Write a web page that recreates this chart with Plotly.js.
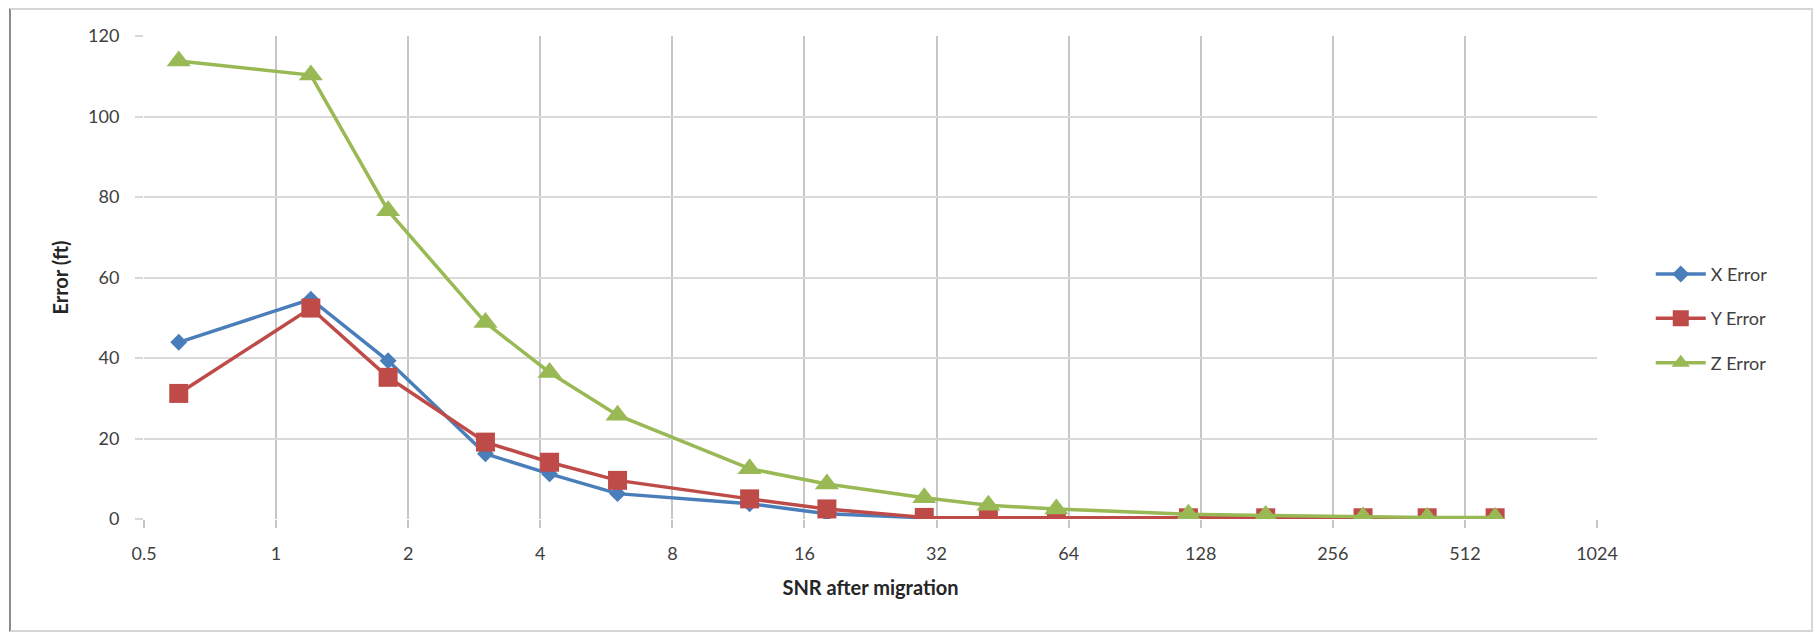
<!DOCTYPE html>
<html>
<head>
<meta charset="utf-8">
<script src="https://cdn.plot.ly/plotly-3.0.1.min.js"></script>
<style>
  html, body { margin: 0; padding: 0; background: #ffffff; }
  #wrap { position: relative; width: 1814px; height: 633px; overflow: hidden; }
  #chart { position: absolute; left: 0; top: 0; width: 1814px; height: 633px; }
  #frame { position: absolute; left: 9px; top: 8px; width: 1800px; height: 620px;
           border: 2px solid #d6d6d6; border-left: 2px solid #8c8c8c; pointer-events: none; }
</style>
</head>
<body>
<div id="wrap">
  <div id="chart"></div>
  <div id="frame"></div>
</div>
<script>
// SNR after migration (x positions of the points)
const snr = [0.6, 1.2, 1.8, 3, 4.2, 6, 12, 18, 30, 42, 60, 120, 180, 300, 420, 600];
// Error values (ft)
const xError = [43.9, 54.6, 39.3, 16.2, 11.2, 6.3, 3.8, 1.3, 0.3, 0.2, 0.2, 0.2, 0.2, 0.2, 0.2, 0.2];
const yError = [31.2, 52.4, 35.2, 19.1, 14.1, 9.6, 5.0, 2.5, 0.4, 0.3, 0.3, 0.3, 0.3, 0.3, 0.3, 0.3];
const zError = [113.8, 110.3, 76.6, 48.8, 36.4, 25.8, 12.5, 8.7, 5.3, 3.4, 2.5, 1.2, 0.9, 0.5, 0.4, 0.4];
// Axis ticks
const xTickVals = [0.5, 1, 2, 4, 8, 16, 32, 64, 128, 256, 512, 1024];
const xTickText = ['0.5', '1', '2', '4', '8', '16', '32', '64', '128', '256', '512', '1024'];
const yTickVals = [0, 20, 40, 60, 80, 100, 120];

const FONT = 'Lato, "Open Sans", "Liberation Sans", sans-serif';

const traces = [
  { name: 'X Error', x: snr, y: xError, type: 'scatter', mode: 'lines+markers', legendgroup: 'a',
    line: { color: '#4a7ebb', width: 3.5 },
    marker: { symbol: 'diamond', size: 13, color: '#4a7ebb' } },
  { name: 'Y Error', x: snr, y: yError, type: 'scatter', mode: 'lines+markers', legendgroup: 'b',
    line: { color: '#be4b48', width: 3.5 },
    marker: { symbol: 'square', size: 19, color: '#be4b48' } },
  { name: 'Z Error', x: snr, y: zError, type: 'scatter', mode: 'lines+markers', legendgroup: 'c',
    line: { color: '#98b954', width: 3.5 },
    marker: { symbol: 'triangle-up', size: 21, color: '#98b954' } }
];

const layout = {
  width: 1814, height: 633,
  margin: { l: 144, r: 217, t: 36, b: 114 },
  paper_bgcolor: '#ffffff', plot_bgcolor: '#ffffff',
  font: { family: FONT, size: 18, color: '#404040' },
  showlegend: true,
  legend: {
    x: 1.037, xanchor: 'left', y: 0.545, yanchor: 'top',
    font: { family: FONT, size: 18, color: '#404040' },
    tracegroupgap: 18, itemwidth: 50, bgcolor: 'rgba(0,0,0,0)'
  },
  xaxis: {
    type: 'log',
    range: [Math.log10(0.5), Math.log10(1024)],
    tickmode: 'array', tickvals: xTickVals, ticktext: xTickText,
    showgrid: true, gridcolor: '#c6c6c6', gridwidth: 2,
    ticks: 'outside', ticklen: 8, tickwidth: 2, tickcolor: '#c6c6c6',
    showline: false, zeroline: false,
    tickfont: { family: FONT, size: 18, color: '#404040' },
    ticklabelstandoff: 10,
    title: { text: 'SNR after migration', standoff: 18,
             font: { family: FONT, size: 20, color: '#262626', weight: 'bold' } }
  },
  yaxis: {
    range: [0, 120],
    tickmode: 'array', tickvals: yTickVals,
    showgrid: true, gridcolor: '#d9d9d9', gridwidth: 2,
    ticks: 'outside', ticklen: 8, tickwidth: 2, tickcolor: '#d9d9d9',
    showline: false, zeroline: false,
    tickfont: { family: FONT, size: 18, color: '#404040' },
    ticklabelstandoff: 12,
    title: { text: 'Error (ft)', standoff: 14,
             font: { family: FONT, size: 20, color: '#262626', weight: 'bold' } }
  }
};

Plotly.newPlot('chart', traces, layout, { displayModeBar: false, staticPlot: true });
</script>
</body>
</html>
